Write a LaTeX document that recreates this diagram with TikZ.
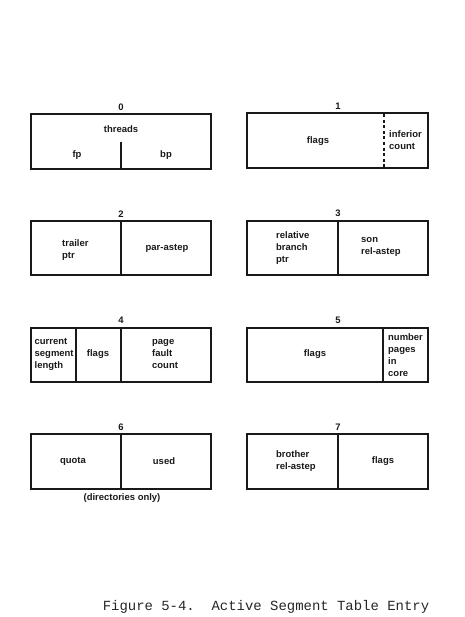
\documentclass[tikz,border=0pt]{standalone}
\usepackage{fontspec}
\setmainfont{Liberation Sans}
\newfontfamily\capfont{Liberation Mono}
\begin{document}
\begin{tikzpicture}[x=1bp,y=-1bp,
  frame/.style={draw=black!90, line width=1.6bp},
  divline/.style={draw=black!90, line width=1.5bp},
  dotline/.style={draw=black!90, line width=1.5bp, dash pattern=on 3bp off 2.6bp},
  txt/.style={font=\bfseries\fontsize{9.5}{12}\selectfont, inner sep=0pt, align=left, text=black!90},
  num/.style={txt},
  captext/.style={font=\capfont\fontsize{14}{16}\selectfont, inner sep=0pt, text=black!85}]
\useasboundingbox (0,0) rectangle (465,617);
% Entry 0
\draw[frame] (31,114) rectangle (211,169);
\draw[divline] (121,142) -- (121,169);
\node[num] (n0) at (121,107) {0};
\node[txt] (threads) at (121,129) {threads};
\node[txt] (fp) at (77,155) {fp};
\node[txt] (bp) at (166,155) {bp};
% Entry 1
\draw[frame] (247,113) rectangle (428,168);
\draw[dotline] (384,114) -- (384,168);
\node[num] (n1) at (338,106) {1};
\node[txt] (flags1) at (318,141) {flags};
\node[txt, anchor=west] (inf) at (389,140) {inferior\\count};
% Entry 2
\draw[frame] (31,221) rectangle (211,275);
\draw[divline] (121,221) -- (121,275);
\node[num] (n2) at (121,214) {2};
\node[txt, anchor=west] (trailer) at (62,250) {trailer\\ptr};
\node[txt] (parastep) at (167,248) {par-astep};
% Entry 3
\draw[frame] (247,221) rectangle (428,275);
\draw[divline] (338,221) -- (338,275);
\node[num] (n3) at (338,213) {3};
\node[txt, anchor=west] (relbr) at (276,248) {relative\\branch\\ptr};
\node[txt, anchor=west] (son) at (361,247) {son\\rel-astep};
% Entry 4
\draw[frame] (31,328) rectangle (211,382);
\draw[divline] (76,328) -- (76,382);
\draw[divline] (121,328) -- (121,382);
\node[num] (n4) at (121,320) {4};
\node[txt, anchor=west] (cur) at (34.5,354) {current\\segment\\length};
\node[txt] (flags4) at (98,354) {flags};
\node[txt, anchor=west] (page) at (152,354) {page\\fault\\count};
% Entry 5
\draw[frame] (247,328) rectangle (428,382);
\draw[divline] (383,328) -- (383,382);
\node[num] (n5) at (338,320) {5};
\node[txt] (flags5) at (315,354) {flags};
\node[txt, anchor=west] (numpg) at (388,355) {number\\pages\\in\\core};
% Entry 6
\draw[frame] (31,434) rectangle (211,489);
\draw[divline] (121,434) -- (121,489);
\node[num] (n6) at (121,427) {6};
\node[txt] (quota) at (73,461) {quota};
\node[txt] (used) at (164,461) {used};
\node[txt] (dironly) at (122,498) {(directories only)};
% Entry 7
\draw[frame] (247,434) rectangle (428,489);
\draw[divline] (338,434) -- (338,489);
\node[num] (n7) at (338,427) {7};
\node[txt, anchor=west] (brother) at (276,461) {brother\\rel-astep};
\node[txt] (flags7) at (383,461) {flags};
% Caption
\node[captext] (caption) at (266,607) {Figure 5-4.\ \ Active Segment Table Entry};
\end{tikzpicture}
\end{document}
